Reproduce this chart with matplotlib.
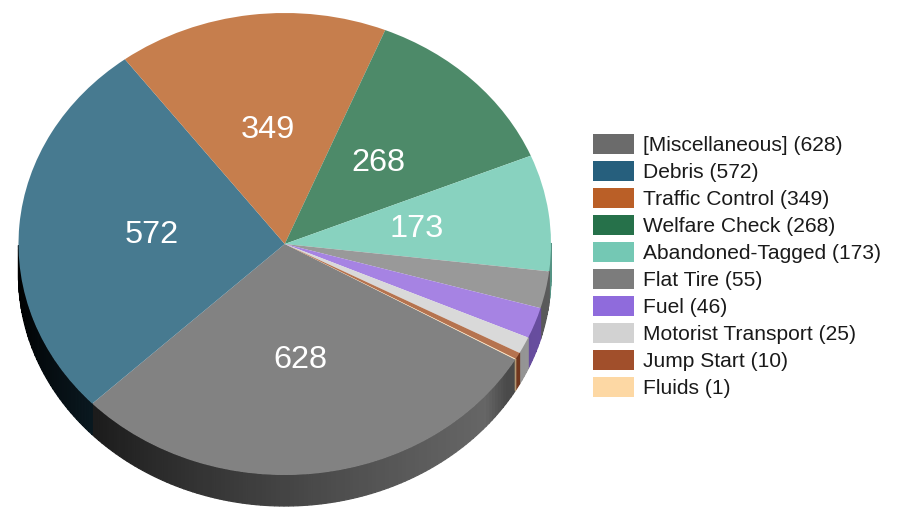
import numpy as np
import matplotlib
matplotlib.use('Agg')
import matplotlib.pyplot as plt
from matplotlib.patches import Patch

plt.rcParams['font.family'] = ['Liberation Sans', 'DejaVu Sans']

categorias = ['[Miscellaneous]', 'Debris', 'Traffic Control', 'Welfare Check',
	'Abandoned-Tagged', 'Flat Tire', 'Fuel', 'Motorist Transport', 'Jump Start', 'Fluids']
valores = [628, 572, 349, 268, 173, 55, 46, 25, 10, 1]
colores = ['#6b6b6b', '#265f7d', '#ba5f27', '#26714a', '#74c8b4',
	'#7c7c7c', '#8f6bdc', '#d2d2d2', '#a14f2b', '#fdd8a4']
colores_tapa = ['#828282', '#477a90', '#c67e4d', '#4d8a69', '#88d2bf',
	'#999999', '#a683e3', '#d9d9d9', '#b5734f', '#fddcb0']
etiquetas_pie = ['628', '572', '349', '268', '173']
inicio = 330.0

W, H = 907, 509
# elipse de la tapa en pixeles
x0, x1, y0, y1 = 18.5, 551, 13, 475
prof = 31.0 / 231.0

def oscurecer(color, x):
	"""Sombra horizontal de la pared: negro a la izquierda, claro cerca de la derecha"""
	t = (x + 1) / 2
	f = 1.05 * t ** 0.72 * (1 - 0.3 * np.clip((t - 0.875) / 0.04, 0, 1))
	return tuple(np.clip(np.array(matplotlib.colors.to_rgb(color)) * f, 0, 1))

fig = plt.figure(figsize=(W / 100, H / 100), dpi=100)
ax = fig.add_axes([x0 / W, 1 - y1 / H, (x1 - x0) / W, (y1 - y0) / H])

# pared lateral, solo la mitad de abajo de cada rebanada
ang = inicio
for v, c in zip(valores, colores):
	fin = ang - v / sum(valores) * 360
	n = max(int((ang - fin) / 1.0), 1)
	bordes = np.radians(np.linspace(ang, fin, n + 1))
	for i in range(n):
		t = np.linspace(bordes[i], bordes[i + 1], 4)
		if np.sin(t).mean() >= 0.0:
			continue
		xs = np.cos(t)
		ys = np.sin(t)
		ax.fill(np.r_[xs, xs[::-1]], np.r_[ys, ys[::-1] - prof],
			facecolor=oscurecer(c, xs.mean()), edgecolor=oscurecer(c, xs.mean()),
			lw=0.9, clip_on=False)
	ang = fin

wedges, _ = ax.pie(valores, colors=colores_tapa, startangle=inicio, counterclock=False,
	radius=1, wedgeprops={'linewidth': 0})
for w in wedges:
	w.set_clip_on(False)
ax.set_aspect('auto')
ax.set_xlim(-1, 1)
ax.set_ylim(-1, 1)

# etiquetas dentro del pie
ang = inicio
for v, e in zip(valores, etiquetas_pie):
	medio = np.radians(ang - v / sum(valores) * 180)
	ax.text(0.5 * np.cos(medio), 0.5 * np.sin(medio) - 0.004, e, color='white',
		fontsize=23.4, ha='center', va='center')
	ang -= v / sum(valores) * 360

handles = [Patch(facecolor=c, edgecolor='none') for c in colores]
rotulos = [f'{c} ({v})' for c, v in zip(categorias, valores)]
fig.legend(handles, rotulos, loc='upper left', bbox_to_anchor=(593 / W, 1 - 134 / H),
	frameon=False, fontsize=15.15, borderpad=0, borderaxespad=0, handlelength=1.95,
	handleheight=1.05, handletextpad=0.43, labelspacing=0.29, labelcolor='#1a1a1a')

fig.savefig('out.png', dpi=100)
